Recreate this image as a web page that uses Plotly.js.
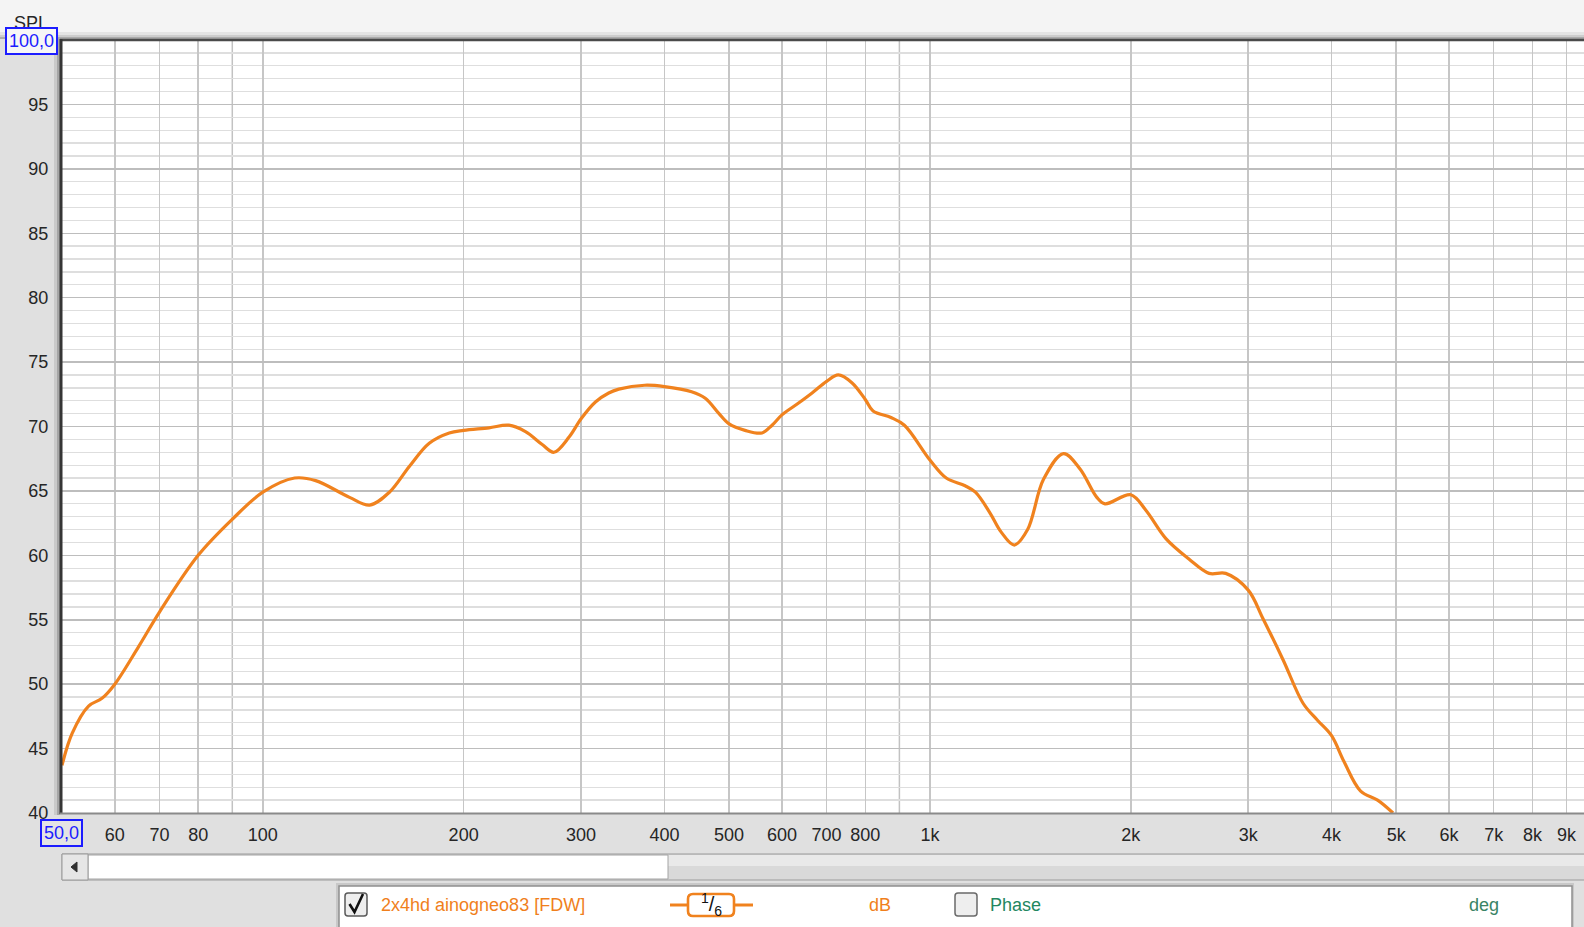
<!DOCTYPE html>
<html>
<head>
<meta charset="utf-8">
<script src="https://cdn.plot.ly/plotly-3.0.1.min.js"></script>
<style>html,body{margin:0;padding:0;overflow:hidden;background:#e0e0e0;}#chart{width:1584px;height:927px;}</style>
</head>
<body>
<div id="chart"></div>
<script>
// ---- data ----
const freqHz = [50, 51.8, 54.8, 57.4, 60, 65.1, 70, 80, 90, 100, 111.6, 120, 134.9, 144.6, 154.8, 165.8, 177.6, 190.3, 200, 218.3, 233.8, 247.6, 262.3, 273.2, 288, 300, 315.2, 330, 341.7, 373.6, 400, 439.2, 460.5, 482.9, 500, 528.2, 559.9, 579.9, 600, 634.7, 665.8, 700, 728.9, 763.8, 800, 821.8, 874.1, 915.6, 1000, 1058, 1129, 1170, 1230, 1279, 1338, 1401, 1480, 1586, 1679, 1779, 1830, 2000, 2107, 2258, 2447, 2622, 2776, 3000, 3156, 3383, 3627, 3810, 4000, 4175, 4422, 4689, 4945];
const splDb = [43.7, 46.2, 48.3, 48.9, 50.0, 52.9, 55.6, 60.0, 62.8, 64.9, 66.0, 65.8, 64.5, 63.9, 64.9, 66.9, 68.7, 69.5, 69.7, 69.9, 70.1, 69.6, 68.6, 68.0, 69.2, 70.6, 71.9, 72.6, 72.9, 73.2, 73.1, 72.7, 72.2, 71.0, 70.2, 69.7, 69.5, 70.1, 70.9, 71.8, 72.6, 73.5, 74.0, 73.4, 72.1, 71.2, 70.7, 70.1, 67.4, 66.0, 65.4, 64.9, 63.3, 61.8, 60.8, 62.0, 65.9, 67.9, 66.7, 64.5, 64.0, 64.7, 63.5, 61.3, 59.7, 58.6, 58.6, 57.3, 55.1, 51.9, 48.5, 47.2, 46.0, 44.0, 41.7, 41.0, 40.0];

const xTickVals = [60, 70, 80, 100, 200, 300, 400, 500, 600, 700, 800, 1000, 2000, 3000, 4000, 5000, 6000, 7000, 8000, 9000];
const xTickText = ['60', '70', '80', '100', '200', '300', '400', '500', '600', '700', '800', '1k', '2k', '3k', '4k', '5k', '6k', '7k', '8k', '9k'];
const xUnlabelledGrid = [90, 900];
const decadeLines = [100, 1000];
const yTickVals = [40, 45, 50, 55, 60, 65, 70, 75, 80, 85, 90, 95];
const yTickText = ['40', '45', '50', '55', '60', '65', '70', '75', '80', '85', '90', '95'];

const yAxisName = 'SPL';
const yTopLabel = '100,0';
const xLeftLabel = '50,0';
const seriesName = '2x4hd ainogneo83 [FDW]';
const smoothingLabel = '<sup>1</sup>/<sub>6</sub>';
const unitLabel = 'dB';
const phaseLabel = 'Phase';
const phaseUnit = 'deg';

// ---- layout geometry ----
const W = 1584, H = 927;
const L = 62, T = 40, PW = 1522, PH = 773;
const PX = x => (x - L) / PW;
const PY = y => (T + PH - y) / PH;

const FONT = 'Liberation Sans, Arial, sans-serif';
const ORANGE = '#f0821e';

function rect(x0, y0, x1, y1, fill, lineColor, lw, layer) {
  return {type: 'rect', xref: 'paper', yref: 'paper', x0: PX(x0), x1: PX(x1), y0: PY(y1), y1: PY(y0),
          fillcolor: fill, line: {color: lineColor || 'rgba(0,0,0,0)', width: lw || 0}, layer: layer || 'above'};
}
function pline(x0, y0, x1, y1, color, w, layer) {
  return {type: 'line', xref: 'paper', yref: 'paper', x0: PX(x0), x1: PX(x1), y0: PY(y0), y1: PY(y1),
          line: {color: color, width: w}, layer: layer || 'above'};
}
function roundRect(x0, y0, x1, y1, r, fill, color, w) {
  const p = (x, y) => PX(x) + ',' + PY(y);
  const d = 'M ' + p(x0 + r, y0) + ' L ' + p(x1 - r, y0) + ' Q ' + p(x1, y0) + ' ' + p(x1, y0 + r) +
            ' L ' + p(x1, y1 - r) + ' Q ' + p(x1, y1) + ' ' + p(x1 - r, y1) +
            ' L ' + p(x0 + r, y1) + ' Q ' + p(x0, y1) + ' ' + p(x0, y1 - r) +
            ' L ' + p(x0, y0 + r) + ' Q ' + p(x0, y0) + ' ' + p(x0 + r, y0) + ' Z';
  return {type: 'path', xref: 'paper', yref: 'paper', path: d, fillcolor: fill, line: {color: color, width: w}, layer: 'above'};
}
function ppath(points, color, w, fill) {
  const d = points.map((q, i) => (i ? 'L ' : 'M ') + PX(q[0]) + ',' + PY(q[1])).join(' ') + (fill ? ' Z' : '');
  return {type: 'path', xref: 'paper', yref: 'paper', path: d, fillcolor: fill || 'rgba(0,0,0,0)', line: {color: color, width: w}, layer: 'above'};
}

const shapes = [];
// top light band with shadow
shapes.push(rect(0, 0, W, 32, '#f4f4f4', null, 0, 'below'));
shapes.push(rect(0, 32, W, 35, '#e4e4e4', null, 0, 'below'));
shapes.push(rect(0, 35, W, 37, '#cdcdcd', null, 0, 'below'));
shapes.push(rect(0, 37, W, 39, '#ababab', null, 0, 'below'));
// left shadow
shapes.push(rect(54, 38, 57, 815, '#cacaca', null, 0, 'below'));
shapes.push(rect(57, 38, 60, 815, '#a6a6a6', null, 0, 'below'));
// unlabelled grid lines and darker decade lines
xUnlabelledGrid.forEach(f => shapes.push({type: 'line', xref: 'x', yref: 'paper', x0: f, x1: f, y0: 0, y1: 1,
  line: {color: '#c2c2c2', width: 1.5}, layer: 'between'}));
decadeLines.forEach(f => shapes.push({type: 'line', xref: 'x', yref: 'paper', x0: f, x1: f, y0: 0, y1: 1,
  line: {color: '#8c8c8c', width: 1.6}, layer: 'between'}));
// plot frame
shapes.push(pline(60, 40, W, 40, '#4a4a4a', 2.5));
shapes.push(pline(61, 39, 61, 814, '#353535', 3));
shapes.push(pline(60, 813.5, W, 813.5, '#8a8a8a', 2));
// scrollbar
shapes.push(rect(62, 854, W + 2, 880, '#d9d9d9', '#9a9a9a', 1));
shapes.push(rect(63, 855, W + 2, 866, '#e9e9e9', null, 0));
shapes.push(rect(88, 855, 668, 879, '#ffffff', '#a4a4a4', 1));
shapes.push(rect(62, 854, 88, 880, '#e6e6e6', '#9a9a9a', 1));
shapes.push(ppath([[71, 867], [77, 862], [77, 872]], '#303030', 1, '#303030'));
// legend panel
shapes.push(rect(336, 883, 1574, 940, '#c8c8c8', null, 0));
shapes.push(rect(339, 886, 1572, 940, '#ffffff', '#8e8e8e', 1.5));
// checkbox 1 (checked)
shapes.push(roundRect(345, 893, 367, 916, 3, '#eeeeee', '#5a5a5a', 1.5));
shapes.push(ppath([[349.5, 904], [354.5, 912], [363, 894]], '#111111', 2.6));
// line symbol with smoothing box
shapes.push(pline(670, 905, 689, 905, ORANGE, 3));
shapes.push(pline(733, 905, 753, 905, ORANGE, 3));
shapes.push(roundRect(688, 894, 734, 916, 5, '#ffffff', ORANGE, 2.6));
// checkbox 2 (unchecked)
shapes.push(roundRect(955, 893, 977, 916, 3, '#eeeeee', '#6a6a6a', 1.5));

function ann(text, x, y, opts) {
  return Object.assign({text: text, xref: 'paper', yref: 'paper', x: PX(x), y: PY(y), showarrow: false,
    xanchor: 'center', yanchor: 'middle', font: {family: FONT, size: 18, color: '#262626'}}, opts || {});
}
const annotations = [
  ann(yAxisName, 31, 23),
  ann(yTopLabel, 31, 40.5, {bgcolor: '#f6f6f6', bordercolor: '#1c1cff', borderwidth: 2, borderpad: 2,
    font: {family: FONT, size: 18, color: '#1c1cff'}}),
  ann(xLeftLabel, 61, 833, {bgcolor: '#e4e4e4', bordercolor: '#1c1cff', borderwidth: 2, borderpad: 2,
    font: {family: FONT, size: 18, color: '#1c1cff'}}),
  ann(seriesName, 379, 905, {xanchor: 'left', font: {family: FONT, size: 18, color: '#f07f1c'}}),
  ann(smoothingLabel, 711, 904, {font: {family: FONT, size: 20, color: '#111111'}}),
  ann(unitLabel, 867, 905, {xanchor: 'left', font: {family: FONT, size: 18, color: '#f07f1c'}}),
  ann(phaseLabel, 988, 905, {xanchor: 'left', font: {family: FONT, size: 18, color: '#23875f'}}),
  ann(phaseUnit, 1467, 905, {xanchor: 'left', font: {family: FONT, size: 18, color: '#3a8466'}})
];

const trace = {
  x: freqHz, y: splDb, type: 'scatter', mode: 'lines',
  line: {color: ORANGE, width: 3.2, shape: 'spline', smoothing: 1.0},
  hoverinfo: 'skip', showlegend: false, cliponaxis: true
};

const layout = {
  width: W, height: H,
  margin: {l: L, r: W - L - PW, t: T, b: H - T - PH, pad: 0, autoexpand: false},
  paper_bgcolor: '#e0e0e0', plot_bgcolor: '#ffffff', showlegend: false,
  xaxis: {
    type: 'log', range: [Math.log10(50), Math.log10(9560)],
    tickmode: 'array', tickvals: xTickVals, ticktext: xTickText,
    showgrid: true, gridcolor: '#c6c6c6', gridwidth: 1.5, zeroline: false, showline: false,
    ticks: 'outside', ticklen: 5, tickcolor: 'rgba(0,0,0,0)',
    tickfont: {family: FONT, size: 18, color: '#262626'}, fixedrange: true
  },
  yaxis: {
    range: [40, 100], tickmode: 'array', tickvals: yTickVals, ticktext: yTickText,
    showgrid: true, gridcolor: '#bdbdbd', gridwidth: 1.5, zeroline: false, showline: false,
    minor: {tickmode: 'linear', tick0: 40, dtick: 1, showgrid: true, gridcolor: '#dedede', gridwidth: 1.3, ticks: ''},
    ticks: 'outside', ticklen: 9, tickcolor: 'rgba(0,0,0,0)',
    tickfont: {family: FONT, size: 18, color: '#262626'}, fixedrange: true
  },
  shapes: shapes, annotations: annotations
};

Plotly.newPlot('chart', [trace], layout, {staticPlot: true, displayModeBar: false});
</script>
</body>
</html>
